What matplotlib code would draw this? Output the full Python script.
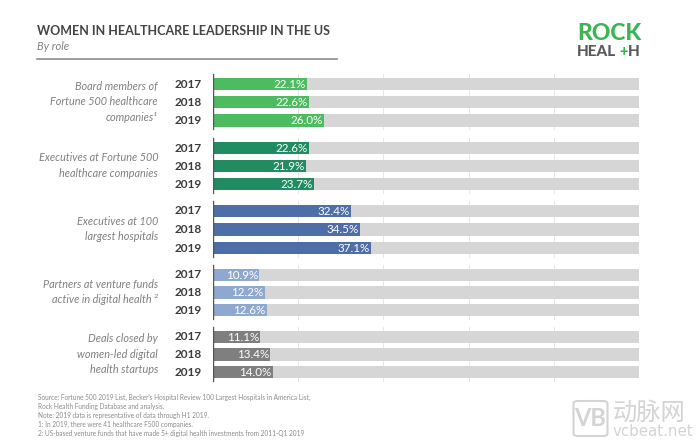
import matplotlib
matplotlib.use("Agg")
import matplotlib.pyplot as plt
from matplotlib.patches import FancyBboxPatch

plt.rcParams['font.family'] = ['Lato', 'Noto Sans CJK SC', 'DejaVu Sans']

years = ['2017', '2018', '2019']
roles = ['Board members of\nFortune 500 healthcare\ncompanies\u00b9',
         'Executives at Fortune 500\nhealthcare companies',
         'Executives at 100\nlargest hospitals',
         'Partners at venture funds\nactive in digital health \u00b2',
         'Deals closed by\nwomen-led digital\nhealth startups']
values = [[22.1, 22.6, 26.0],
          [22.6, 21.9, 23.7],
          [32.4, 34.5, 37.1],
          [10.9, 12.2, 12.6],
          [11.1, 13.4, 14.0]]
colors = ['#4dbb5f', '#218c62', '#4d6ea6', '#8fa8cf', '#7f7f7f']
ticks = [20, 40, 60, 80]

# pixel rows for the bar groups
group_top = [84, 148, 211, 275, 337]
row_step = [18.2, 18, 18.5, 17.5, 17.5]
W, H = 700, 446

fig = plt.figure(figsize=(W / 100, H / 100), dpi=100)
ax = fig.add_axes([213 / W, 0, (639 - 213) / W, 1])
ax.set_xlim(0, 100)
ax.set_ylim(H, 0)
ax.axis('off')

for g, vals in enumerate(values):
    top = group_top[g]
    ys = [top + i * row_step[g] for i in range(3)]
    ax.plot([0, 0], [ys[0] - 10, ys[2] + 9], color='#555555', lw=1, zorder=4)
    for t in ticks + [100]:
        ax.plot([t, t], [ys[0] - 10, ys[2] + 9], color='#e6e6e6', lw=0.7, zorder=0)
    ax.barh(ys, [100] * 3, height=12.3, color='#d6d6d6', zorder=1)
    ax.barh(ys, vals, height=12.3, color=colors[g], zorder=2)
    for y, v, yr in zip(ys, vals, years):
        ax.text(v - 0.3, y + 0.3, f'{v:.1f}%', color='white', fontsize=8.4, ha='right', va='center', zorder=3)
        ax.text(-2.6, y, yr, color='#3c3c3c', fontsize=8.5, fontweight='bold', ha='right', va='center')
    ax.text(-12.9, ys[1] - 0.5, roles[g], color='#808080', fontsize=7.8, style='italic',
            ha='right', va='center', linespacing=1.49)


def px(x, y, s, **kw):
    fig.text(x / W, 1 - y / H, s, **kw)


px(37, 31, 'WOMEN IN HEALTHCARE LEADERSHIP IN THE US', color='#444444', fontsize=9,
   fontweight='bold', va='center')
px(37, 46.5, 'By role', color='#808080', fontsize=8, style='italic', va='center')
fig.add_artist(plt.Line2D([37 / W, 337 / W], [1 - 59 / H] * 2, color='#8c8c8c', lw=1.2))

# footnotes
notes = ["Source: Fortune 500 2019 List, Becker's Hospital Review 100 Largest Hospitals in America List,",
         'Rock Health Funding Database and analysis.',
         'Note: 2019 data is representative of data through H1 2019.',
         '1: In 2019, there were 41 healthcare F500 companies.',
         '2: US-based venture funds that have made 5+ digital health investments from 2011-Q1 2019']
for i, n in enumerate(notes):
    px(38, 397.5 + i * 8.9, n, color='#8a8a8a', fontsize=4.7, va='center')

# logo
px(577, 33.5, 'ROCK', color='#3cb454', fontsize=16.5, fontweight='black', va='center')
px(577, 52.5, 'HEAL', color='#58595b', fontsize=11, fontweight='black', va='center')
px(623.5, 52, '+', color='#3cb454', fontsize=10.5, fontweight='black', va='center', ha='center')
px(640, 52.5, 'H', color='#58595b', fontsize=11, fontweight='black', va='center', ha='right')

# watermark
fig.add_artist(FancyBboxPatch((573.5 / W, 1 - 436 / H), 34 / W, 35 / H, boxstyle='round,pad=0,rounding_size=0.006',
                              transform=fig.transFigure, fc='none', ec='#d4d4d4', lw=1.5))
px(590.5, 418.5, 'VB', color='#d4d4d4', fontsize=17, fontweight='bold', ha='center', va='center')
px(613, 412.5, '动脉网', color='#d4d4d4', fontsize=17.5, va='center')
px(613, 431.5, 'vcbeat.net', color='#d4d4d4', fontsize=10.8, family='DejaVu Sans', va='center')

fig.savefig('out.png', dpi=100)
